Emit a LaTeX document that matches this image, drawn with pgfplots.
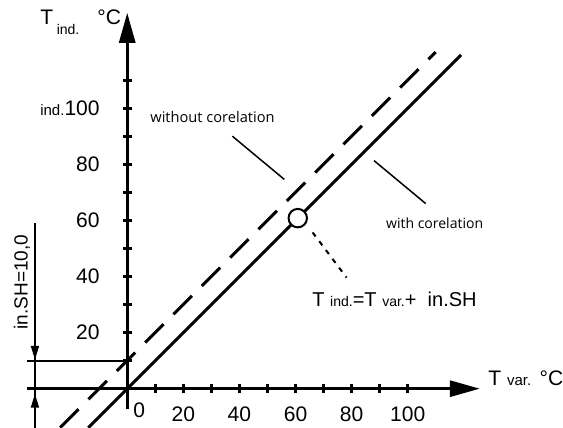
\documentclass[border=0pt]{standalone}
\usepackage{fontspec}
\setmainfont{Liberation Sans}
\newfontfamily\annot{Open Sans}
\usepackage{pgfplots}
\pgfplotsset{compat=1.18}
\usetikzlibrary{arrows.meta}

\newcommand{\bg}{\fontsize{10}{12}\selectfont}
\newcommand{\sm}{\fontsize{7}{8}\selectfont}

\begin{document}
\begin{tikzpicture}
\begin{axis}[
  x=1.4pt, y=1.4pt,
  xmin=-35.7, xmax=125.7,
  ymin=-7.1, ymax=134,
  axis lines=middle,
  axis line style={line width=1.5pt, -{Triangle[length=15pt,width=8pt]}},
  tick align=center,
  major tick length=4.5pt,
  tick style={line width=1.5pt, black},
  xtick={10,20,...,100},
  xticklabels={,20,,40,,60,,80,,100},
  ytick={10,20,...,110},
  yticklabels={,20,,40,,60,,80,,{\fontsize{7.5}{8}\selectfont ind.}100,},
  extra x ticks={4.3},
  extra x tick labels={0},
  extra x tick style={major tick length=0pt},
  ticklabel style={font=\fontsize{10.5}{12}\selectfont},
  xticklabel style={yshift=-3.5pt},
  yticklabel style={xshift=-8pt},
  /pgf/number format/assume math mode=true,
  clip=false,
]
% rule lines
\addplot[line width=1.5pt, dash pattern=on 13pt off 7pt] coordinates {(-23.9,-13.9) (110,120)};
\addplot[line width=1.5pt] coordinates {(-13.9,-13.9) (119,119)};
\addplot[only marks, mark=*, mark size=4.6pt,
  mark options={fill=white, draw=black, line width=1pt}] coordinates {(60.8,60.8)};

% leaders
\draw[line width=0.75pt] (axis cs:37.5,90) -- (axis cs:56,74.6);
\draw[line width=0.75pt] (axis cs:88,81.3) -- (axis cs:106.4,66);
\draw[line width=1pt, dash pattern=on 2.5pt off 3pt] (axis cs:66.1,55.7) -- (axis cs:78.2,39.6);

% offset dimension
\draw[line width=0.9pt] (axis cs:-32.9,-13.93) -- (axis cs:-32.9,58.9);
\draw[line width=0.9pt] (axis cs:-35.7,10) -- (axis cs:1.5,10);
\draw[line width=0.9pt, -{Triangle[length=7pt,width=4pt]}] (axis cs:-32.9,18) -- (axis cs:-32.9,10.3);
\draw[line width=0.9pt, -{Triangle[length=7pt,width=4pt]}] (axis cs:-32.9,-12) -- (axis cs:-32.9,-1.8);
\node[rotate=90, font=\fontsize{9.5}{11}\selectfont] at (axis cs:-37.5,38) {in.SH=10,0};

% texts
\node[font=\annot\fontsize{7.3}{8}\selectfont] at (axis cs:30.4,97) {without corelation};
\node[font=\annot\fontsize{7}{8}\selectfont] at (axis cs:109.6,58.9) {with corelation};
\node[anchor=base, inner sep=0pt] at (axis cs:95.3,29.3) {\bg T \sm ind.\bg =T \sm var.\bg + \ in.SH};
\node[anchor=base west, inner sep=0pt] at (axis cs:-31.1,130) {\fontsize{10.5}{12}\selectfont T\,\raisebox{-5pt}{\sm ind.}\hspace{9pt}°C};
\node[anchor=base west, inner sep=0pt] at (axis cs:128.6,1.1) {\fontsize{10.5}{12}\selectfont T \fontsize{7.5}{8}\selectfont var.\ \ \fontsize{10.5}{12}\selectfont °C};

\coordinate (bl) at (axis cs:-45.36,-13.93);
\coordinate (tr) at (axis cs:155.36,138.57);
\end{axis}
\pgfresetboundingbox
\path (bl) rectangle (tr);
\end{tikzpicture}
\end{document}
